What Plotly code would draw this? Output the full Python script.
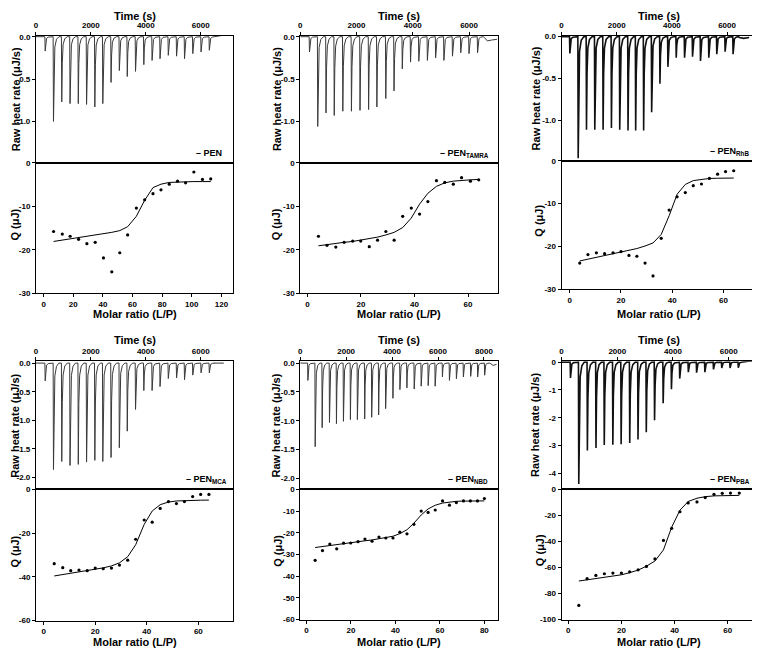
import plotly.graph_objects as go

W, H = 760, 658
OX, OY = 8, 8          # page offset of the plot inside the browser window
FONT = "Liberation Sans, Arial, sans-serif"

# ---------------- data ----------------
PEN_inj_time = [337, 639, 940, 1241, 1542, 1843, 2145, 2434, 2735, 3036, 3325, 3626, 3928, 4229, 4518, 4819, 5120, 5410, 5711, 6012, 6313]
PEN_inj_peak = [-0.17, -1.00, -0.77, -0.79, -0.79, -0.80, -0.83, -0.79, -0.54, -0.40, -0.47, -0.41, -0.33, -0.28, -0.26, -0.22, -0.23, -0.26, -0.20, -0.18, -0.16]
PEN_tail_time = [6500, 6700, 6870]
PEN_tail_rate = [0.0, 0.01, 0.02]
PEN_ratio = [6.7, 12.6, 17.9, 23.6, 29.2, 34.8, 40.4, 46.0, 51.4, 56.7, 62.6, 68.2, 73.8, 79.2, 84.8, 90.4, 95.8, 101.4, 107.2, 112.8]
PEN_Q = [-15.8, -16.4, -16.9, -17.6, -18.6, -18.3, -21.9, -25.1, -20.7, -16.6, -10.4, -8.5, -7.1, -6.2, -4.9, -4.2, -4.6, -2.1, -3.8, -3.7]
PEN_fit = [-18.1, -17.8, -17.5, -17.2, -16.9, -16.6, -16.3, -16.0, -15.6, -14.7, -12.3, -8.6, -5.7, -4.9, -4.5, -4.4, -4.35, -4.3, -4.3, -4.3]

TAMRA_inj_time = [329, 622, 916, 1209, 1514, 1820, 2125, 2430, 2724, 3041, 3334, 3628, 3921, 4215, 4520, 4813, 5107, 5412, 5706, 5999, 6304]
TAMRA_inj_peak = [-0.18, -1.06, -0.90, -0.93, -0.88, -0.88, -0.87, -0.86, -0.83, -0.73, -0.64, -0.38, -0.30, -0.29, -0.28, -0.25, -0.28, -0.23, -0.19, -0.20, -0.19]
TAMRA_tail_time = [6550, 6650, 6800, 7000]
TAMRA_tail_rate = [-0.01, -0.05, -0.04, -0.03]
TAMRA_ratio = [4.1, 7.3, 10.6, 13.7, 16.9, 19.9, 23.1, 26.2, 29.3, 32.4, 35.6, 38.8, 41.9, 45.0, 48.2, 51.3, 54.5, 57.6, 60.9, 64.0]
TAMRA_Q = [-16.9, -19.0, -19.4, -18.3, -18.0, -18.0, -19.3, -17.8, -15.8, -17.8, -12.3, -10.4, -11.8, -8.9, -4.1, -4.5, -4.9, -3.4, -4.2, -3.9]
TAMRA_fit = [-19.1, -18.8, -18.6, -18.3, -18.1, -17.8, -17.5, -17.1, -16.6, -16.0, -14.9, -12.7, -9.5, -7.0, -5.4, -4.6, -4.2, -4.0, -3.9, -3.8]

RHB_inj_time = [301, 603, 904, 1205, 1506, 1808, 2109, 2410, 2687, 2976, 3266, 3567, 3856, 4157, 4459, 4748, 5037, 5338, 5627, 5929, 6218]
RHB_inj_peak = [-0.20, -1.45, -1.11, -1.11, -1.11, -1.09, -1.11, -1.12, -1.12, -1.12, -0.90, -0.56, -0.36, -0.25, -0.25, -0.24, -0.29, -0.25, -0.21, -0.18, -0.21]
RHB_tail_time = [6450, 6600, 6800]
RHB_tail_rate = [-0.01, -0.02, -0.01]
RHB_ratio = [3.9, 7.1, 10.4, 13.6, 16.9, 20.0, 23.1, 26.2, 29.4, 32.5, 35.7, 38.8, 41.9, 45.1, 48.2, 51.4, 54.5, 57.7, 60.8, 64.0]
RHB_Q = [-23.9, -21.9, -21.5, -21.7, -21.5, -21.2, -22.1, -22.3, -23.9, -26.9, -18.1, -11.5, -8.4, -7.4, -5.8, -5.4, -4.1, -3.1, -2.5, -2.3]
RHB_fit = [-23.4, -23.0, -22.6, -22.2, -21.8, -21.4, -21.0, -20.5, -19.9, -19.2, -17.2, -12.8, -7.8, -5.5, -4.6, -4.3, -4.1, -4.05, -4.0, -4.0]

MCA_inj_time = [337, 639, 940, 1241, 1542, 1843, 2145, 2434, 2735, 3036, 3325, 3626, 3928, 4229, 4518, 4819, 5120, 5410, 5711, 6012, 6313]
MCA_inj_peak = [-0.31, -1.86, -1.72, -1.79, -1.77, -1.73, -1.70, -1.72, -1.65, -1.48, -1.19, -0.81, -0.48, -0.48, -0.41, -0.27, -0.26, -0.29, -0.21, -0.17, -0.17]
MCA_tail_time = [6500, 6840]
MCA_tail_rate = [0.0, 0.0]
MCA_ratio = [4.1, 7.4, 10.5, 13.7, 16.9, 20.0, 23.1, 26.3, 29.4, 32.6, 35.7, 39.0, 42.1, 45.2, 48.4, 51.5, 54.6, 57.8, 60.9, 64.1]
MCA_Q = [-34.0, -35.8, -37.2, -36.9, -37.2, -36.0, -36.3, -36.0, -34.6, -32.4, -22.8, -14.0, -15.0, -8.7, -5.6, -6.5, -5.6, -3.3, -2.3, -2.3]
MCA_fit = [-39.6, -39.0, -38.4, -37.8, -37.2, -36.6, -35.9, -35.0, -33.6, -30.8, -25.3, -16.0, -9.9, -7.0, -5.8, -5.3, -5.1, -5.0, -4.95, -4.9]

NBD_inj_time = [333, 651, 955, 1273, 1577, 1881, 2185, 2489, 2807, 3111, 3415, 3719, 4037, 4341, 4645, 4963, 5267, 5571, 5875, 6193, 6497, 6801, 7105, 7423, 7727, 8031]
NBD_inj_peak = [-0.30, -1.45, -1.12, -1.03, -1.05, -1.01, -0.98, -0.98, -0.97, -0.94, -0.90, -0.79, -0.61, -0.46, -0.43, -0.45, -0.40, -0.39, -0.40, -0.24, -0.30, -0.27, -0.24, -0.23, -0.24, -0.21]
NBD_tail_time = [8300, 8400, 8550]
NBD_tail_rate = [-0.01, -0.04, -0.02]
NBD_ratio = [3.9, 7.2, 10.5, 13.6, 16.7, 19.9, 23.2, 26.3, 29.5, 32.6, 35.7, 38.9, 42.0, 45.2, 48.3, 51.6, 54.7, 57.9, 61.2, 64.3, 67.4, 70.6, 73.7, 76.9, 80.0]
NBD_Q = [-32.7, -28.2, -25.2, -27.4, -24.8, -24.7, -24.1, -22.9, -23.9, -22.0, -22.4, -22.4, -19.7, -20.5, -16.1, -10.0, -10.6, -9.5, -5.3, -7.3, -6.1, -5.3, -5.3, -5.3, -4.2]
NBD_fit = [-26.8, -26.3, -25.9, -25.5, -25.0, -24.6, -24.1, -23.7, -23.3, -22.8, -22.3, -21.6, -20.4, -18.6, -15.6, -11.8, -9.0, -7.3, -6.3, -5.8, -5.5, -5.4, -5.35, -5.3, -5.3]

PBA_inj_time = [321, 618, 927, 1236, 1533, 1841, 2138, 2447, 2744, 3041, 3338, 3647, 3944, 4241, 4550, 4847, 5144, 5453, 5750, 6047, 6344]
PBA_inj_peak = [-0.57, -4.38, -3.17, -3.08, -2.98, -2.97, -2.95, -2.90, -2.78, -2.52, -2.09, -1.48, -0.97, -0.59, -0.36, -0.38, -0.36, -0.26, -0.21, -0.21, -0.20]
PBA_tail_time = [6500, 6700, 6950]
PBA_tail_rate = [0.0, 0.03, 0.06]
PBA_ratio = [4.0, 7.1, 10.4, 13.6, 16.8, 20.0, 23.1, 26.3, 29.4, 32.6, 35.8, 38.9, 42.0, 45.1, 48.4, 51.5, 54.8, 57.9, 61.0, 64.3]
PBA_Q = [-89.1, -68.6, -66.1, -64.8, -64.3, -64.3, -63.3, -61.8, -59.2, -53.4, -39.2, -29.9, -17.2, -10.4, -9.6, -6.3, -3.8, -3.0, -2.8, -2.8]
PBA_fit = [-70.4, -69.4, -68.5, -67.5, -66.6, -65.6, -64.0, -62.0, -59.0, -55.0, -46.5, -29.0, -16.0, -9.3, -6.8, -5.6, -5.0, -4.8, -4.7, -4.6]

LABELS = ["PEN", "PEN<sub>TAMRA</sub>", "PEN<sub>RhB</sub>", "PEN<sub>MCA</sub>", "PEN<sub>NBD</sub>", "PEN<sub>PBA</sub>"]

# tick labels
TIME_TICKS = [0, 2000, 4000, 6000]
TIME_TEXT = ["0", "2000", "4000", "6000"]
TIME_TICKS_NBD = [0, 2000, 4000, 6000, 8000]
TIME_TEXT_NBD = ["0", "2000", "4000", "6000", "8000"]
RATE_TICKS_A = [0.0, -0.5, -1.0]
RATE_TEXT_A = ["0.0", "-0.5", "-1.0"]
RATE_TICKS_B = [0.0, -0.5, -1.0, -1.5, -2.0]
RATE_TEXT_B = ["0.0", "-0.5", "-1.0", "-1.5", "-2.0"]
RATE_TICKS_C = [0, -1, -2, -3, -4]
RATE_TEXT_C = ["0", "-1", "-2", "-3", "-4"]
Q_TICKS_A = [0, -10, -20, -30]
Q_TEXT_A = ["0", "-10", "-20", "-30"]
Q_TICKS_B = [0, -20, -40, -60]
Q_TEXT_B = ["0", "-20", "-40", "-60"]
Q_TICKS_C = [0, -10, -20, -30, -40, -50, -60]
Q_TEXT_C = ["0", "-10", "-20", "-30", "-40", "-50", "-60"]
Q_TICKS_D = [0, -20, -40, -60, -80, -100]
Q_TEXT_D = ["0", "-20", "-40", "-60", "-80", "-100"]
MR_TICKS_A = [0, 20, 40, 60, 80, 100, 120]
MR_TEXT_A = ["0", "20", "40", "60", "80", "100", "120"]
MR_TICKS_B = [0, 20, 40, 60]
MR_TEXT_B = ["0", "20", "40", "60"]
MR_TICKS_C = [0, 20, 40, 60, 80]
MR_TEXT_C = ["0", "20", "40", "60", "80"]

# ---------------- layout / styling (window pixels) ----------------
panels = [
    dict(lab=LABELS[0], t=PEN_inj_time, p=PEN_inj_peak, tt=PEN_tail_time, tr=PEN_tail_rate,
         r=PEN_ratio, q=PEN_Q, f=PEN_fit,
         x=(34, 232), y=(32, 161, 293), trange=[0, 7190], rrange=[-1.49, 0.012],
         tticks=(TIME_TICKS, TIME_TEXT), rticks=(RATE_TICKS_A, RATE_TEXT_A),
         mrange=[-5.2, 128.1], mticks=(MR_TICKS_A, MR_TEXT_A), qrange=[-30, 0], qticks=(Q_TICKS_A, Q_TEXT_A),
         lw=1.0, lc="#3a3a3a", leg=192, ytl=13.5, qtl=13.5, ytc=96),
    dict(lab=LABELS[1], t=TAMRA_inj_time, p=TAMRA_inj_peak, tt=TAMRA_tail_time, tr=TAMRA_tail_rate,
         r=TAMRA_ratio, q=TAMRA_Q, f=TAMRA_fit,
         x=(299, 497), y=(32, 161, 293), trange=[0, 7020], rrange=[-1.49, 0.012],
         tticks=(TIME_TICKS, TIME_TEXT), rticks=(RATE_TICKS_A, RATE_TEXT_A),
         mrange=[-2.7, 71.1], mticks=(MR_TICKS_B, MR_TEXT_B), qrange=[-30, 0], qticks=(Q_TICKS_A, Q_TEXT_A),
         lw=1.0, lc="#3a3a3a", leg=437, ytl=275, qtl=275, ytc=96),
    dict(lab=LABELS[2], t=RHB_inj_time, p=RHB_inj_peak, tt=RHB_tail_time, tr=RHB_tail_rate,
         r=RHB_ratio, q=RHB_Q, f=RHB_fit,
         x=(561, 756), y=(32, 159, 289), trange=[0, 7050], rrange=[-1.482, 0.012],
         tticks=(TIME_TICKS, TIME_TEXT), rticks=(RATE_TICKS_A, RATE_TEXT_A),
         mrange=[-3.2, 72.7], mticks=(MR_TICKS_B, MR_TEXT_B), qrange=[-30, 0], qticks=(Q_TICKS_A, Q_TEXT_A),
         lw=1.6, lc="#111111", leg=708, ytl=535, qtl=538, ytc=96),
    dict(lab=LABELS[3], t=MCA_inj_time, p=MCA_inj_peak, tt=MCA_tail_time, tr=MCA_tail_rate,
         r=MCA_ratio, q=MCA_Q, f=MCA_fit,
         x=(34, 232), y=(362, 492, 625), trange=[0, 7190], rrange=[-2.207, 0.034],
         tticks=(TIME_TICKS, TIME_TEXT), rticks=(RATE_TICKS_B, RATE_TEXT_B),
         mrange=[-3.0, 73.6], mticks=(MR_TICKS_B, MR_TEXT_B), qrange=[-60, 0], qticks=(Q_TICKS_B, Q_TEXT_B),
         lw=1.0, lc="#3a3a3a", leg=182, ytl=13.5, qtl=13.5, ytc=427),
    dict(lab=LABELS[4], t=NBD_inj_time, p=NBD_inj_peak, tt=NBD_tail_time, tr=NBD_tail_rate,
         r=NBD_ratio, q=NBD_Q, f=NBD_fit,
         x=(299, 497), y=(362, 492, 624), trange=[0, 8600], rrange=[-2.19, 0.034],
         tticks=(TIME_TICKS_NBD, TIME_TEXT_NBD), rticks=(RATE_TICKS_B, RATE_TEXT_B),
         mrange=[-2.8, 86.0], mticks=(MR_TICKS_C, MR_TEXT_C), qrange=[-60, 0], qticks=(Q_TICKS_C, Q_TEXT_C),
         lw=1.0, lc="#3a3a3a", leg=445, ytl=275, qtl=276, ytc=427),
    dict(lab=LABELS[5], t=PBA_inj_time, p=PBA_inj_peak, tt=PBA_tail_time, tr=PBA_tail_rate,
         r=PBA_ratio, q=PBA_Q, f=PBA_fit,
         x=(561, 756), y=(362, 492, 624), trange=[0, 6980], rrange=[-4.57, 0.035],
         tticks=(TIME_TICKS, TIME_TEXT), rticks=(RATE_TICKS_C, RATE_TEXT_C),
         mrange=[-2.5, 70.6], mticks=(MR_TICKS_B, MR_TEXT_B), qrange=[-100, 0], qticks=(Q_TICKS_D, Q_TEXT_D),
         lw=1.6, lc="#111111", leg=708, ytl=535, qtl=539, ytc=427),
]

# spike profile (visual styling of each injection peak): offsets in s and fraction of peak
SPIKE_DT = [-12, 0, 20, 50, 110]
SPIKE_FR = [0.0, 1.0, 0.4, 0.12, 0.03]


def raw_curve(times, peaks, tail_t, tail_v):
    xs, ys = [0], [0.0]
    for t, pk in zip(times, peaks):
        for dt, fr in zip(SPIKE_DT, SPIKE_FR):
            xs.append(t + dt)
            ys.append(pk * fr)
        xs.append(t + 200)
        ys.append(0.0)
    xs += list(tail_t)
    ys += list(tail_v)
    return xs, ys


def px(v):
    return (v - OX) / W


def py(v):
    return 1 - (v - OY) / H


def ref(kind, n):
    return kind if n == 1 else f"{kind}{n}"


tickfont = dict(family=FONT, size=8, color="black", weight="bold")
common = dict(showline=True, linecolor="black", linewidth=1, mirror=True, showgrid=False,
              zeroline=False, ticks="outside", ticklen=3, tickwidth=1, tickcolor="black",
              tickfont=tickfont, fixedrange=True, tickmode="array")

fig = go.Figure()
layout = {}
annotations = []
titlefont = dict(family=FONT, size=11, color="black", weight="bold")

for i, P in enumerate(panels):
    a, b = 2 * i + 1, 2 * i + 2
    xl, xr = P["x"]
    yt, ym, yb = P["y"]
    xdom = [px(xl), min(px(xr), 1.0)]

    xs, ys = raw_curve(P["t"], P["p"], P["tt"], P["tr"])
    fig.add_trace(go.Scatter(x=xs, y=ys, mode="lines", line=dict(color=P["lc"], width=P["lw"]),
                             xaxis=ref("x", a), yaxis=ref("y", a), showlegend=False, hoverinfo="skip"))
    fig.add_trace(go.Scatter(x=P["r"], y=P["f"], mode="lines", line=dict(color="black", width=1),
                             xaxis=ref("x", b), yaxis=ref("y", b), showlegend=False))
    fig.add_trace(go.Scatter(x=P["r"], y=P["q"], mode="markers",
                             marker=dict(color="black", size=3.2, symbol="circle"),
                             xaxis=ref("x", b), yaxis=ref("y", b), showlegend=False))

    layout[ref("xaxis", a)] = dict(common, domain=xdom, range=P["trange"], side="top",
                                   anchor=ref("y", a), tickvals=P["tticks"][0], ticktext=P["tticks"][1])
    layout[ref("yaxis", a)] = dict(common, domain=[py(ym), py(yt)], range=P["rrange"],
                                   anchor=ref("x", a), tickvals=P["rticks"][0], ticktext=P["rticks"][1])
    layout[ref("xaxis", b)] = dict(common, domain=xdom, range=P["mrange"], side="bottom",
                                   anchor=ref("y", b), tickvals=P["mticks"][0], ticktext=P["mticks"][1])
    layout[ref("yaxis", b)] = dict(common, domain=[py(yb), py(ym)], range=P["qrange"],
                                   anchor=ref("x", b), tickvals=P["qticks"][0], ticktext=P["qticks"][1])

    xc = (xl + xr) / 2
    ttl_y = 12.5 if yt < 200 else 341
    mr_y = 314 if yt < 200 else 647
    annotations += [
        dict(text="Time (s)", x=px(xc), y=py(ttl_y), xref="paper", yref="paper",
             showarrow=False, font=titlefont, xanchor="center", yanchor="middle"),
        dict(text="Molar ratio (L/P)", x=px(xc), y=py(mr_y), xref="paper", yref="paper",
             showarrow=False, font=titlefont, xanchor="center", yanchor="middle"),
        dict(text="Raw heat rate (μJ/s)", x=px(P["ytl"]), y=py(P["ytc"]), xref="paper", yref="paper",
             showarrow=False, font=titlefont, textangle=-90, xanchor="center", yanchor="middle"),
        dict(text="Q (μJ)", x=px(P["qtl"]), y=py((ym + yb) / 2 - 4), xref="paper", yref="paper",
             showarrow=False, font=titlefont, textangle=-90, xanchor="center", yanchor="middle"),
        dict(text="– " + P["lab"], x=px(P["leg"]), y=py(ym - 10), xref="paper", yref="paper",
             showarrow=False, font=dict(family=FONT, size=9, color="black", weight="bold"),
             xanchor="left", yanchor="middle"),
    ]

fig.update_layout(width=W, height=H, margin=dict(l=0, r=0, t=0, b=0),
                  paper_bgcolor="white", plot_bgcolor="white", showlegend=False,
                  annotations=annotations, **layout)

fig.write_html("out.html")
